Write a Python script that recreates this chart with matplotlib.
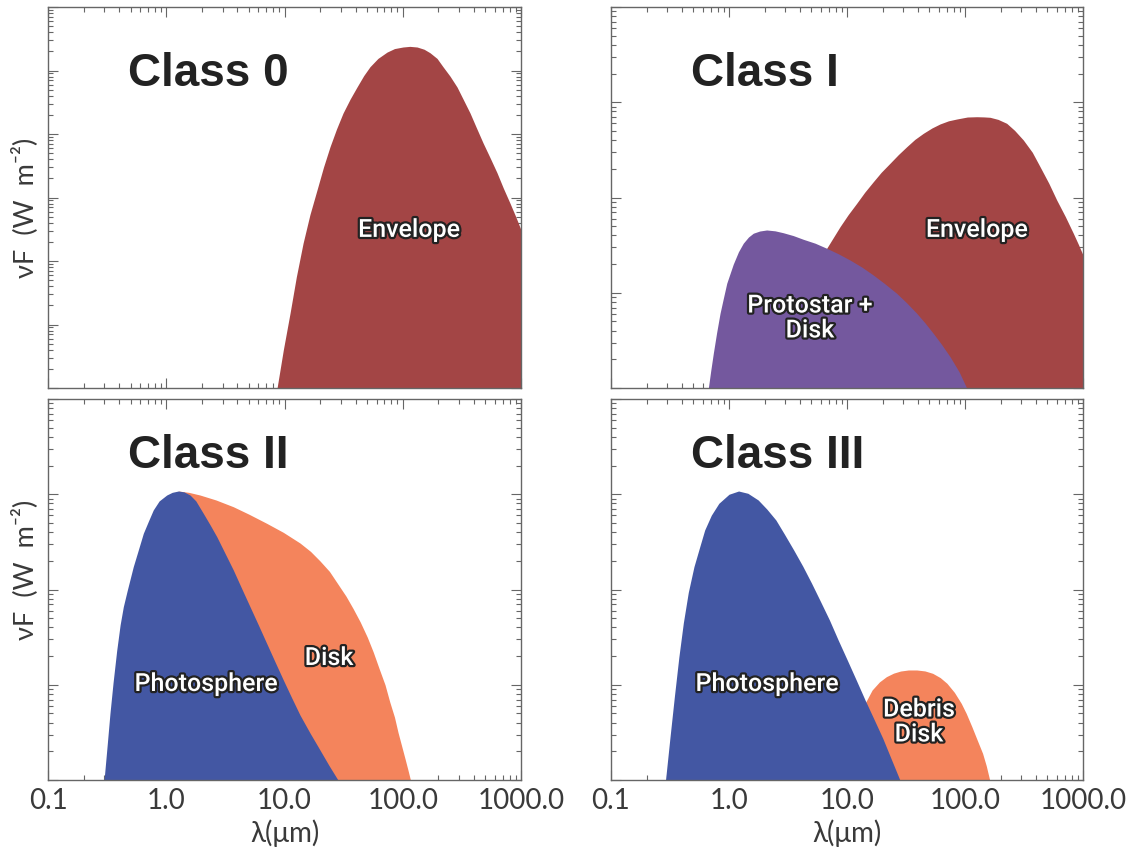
import numpy as np
import matplotlib
matplotlib.use("Agg")
import matplotlib.pyplot as plt
import matplotlib.patheffects as pe
from matplotlib.ticker import LogLocator, NullFormatter

# colours
ENV, PROTO, PHOT, DISK = "#A34545", "#74589E", "#4357A3", "#F4845C"
INK, AXC, TXT = "#222222", "#666666", "#3a3a3a"

# ---- data: log10(lambda / um) and log10(nuF, arbitrary units) ----
# Class 0
c0_env_lam = [0.937, 0.99, 1.047, 1.10, 1.157, 1.215, 1.275, 1.33, 1.385, 1.44,
              1.495, 1.555, 1.613, 1.67, 1.723, 1.79, 1.867, 1.93, 2.002, 2.06,
              2.121, 2.18, 2.230, 2.29, 2.340, 2.40, 2.459, 2.51, 2.569, 2.62,
              2.679, 2.74, 2.797, 2.85, 2.907, 2.955, 3.0]
c0_env_f = [0.0, 0.60, 1.18, 1.75, 2.28, 2.73, 3.12, 3.48, 3.80, 4.08,
            4.33, 4.55, 4.74, 4.92, 5.06, 5.19, 5.29, 5.345, 5.37, 5.38,
            5.37, 5.335, 5.28, 5.19, 5.06, 4.91, 4.74, 4.55, 4.33, 4.11,
            3.86, 3.62, 3.39, 3.15, 2.91, 2.70, 2.49]

# Class I
c1_env_lam = [0.263, 0.517, 0.686, 0.828, 0.941, 1.01, 1.082, 1.15, 1.223, 1.29,
              1.364, 1.435, 1.506, 1.575, 1.647, 1.72, 1.788, 1.86, 1.930, 2.02,
              2.099, 2.16, 2.212, 2.28, 2.353, 2.42, 2.494, 2.57, 2.636, 2.71,
              2.777, 2.85, 2.918, 2.96, 3.0]
c1_env_f = [0.0, 0.714, 1.134, 1.467, 1.694, 1.82, 1.939, 2.055, 2.166, 2.265,
            2.359, 2.45, 2.533, 2.61, 2.674, 2.73, 2.772, 2.805, 2.824, 2.845,
            2.848, 2.846, 2.842, 2.82, 2.779, 2.705, 2.604, 2.475, 2.323, 2.15,
            1.974, 1.80, 1.624, 1.51, 1.396]
c1_pd_lam = [-0.175, -0.155, -0.133, -0.105, -0.076, -0.05, -0.019, 0.036, 0.08, 0.121,
             0.165, 0.206, 0.26, 0.319, 0.39, 0.460, 0.545, 0.630, 0.73, 0.828,
             0.925, 1.025, 1.125, 1.223, 1.32, 1.421, 1.505, 1.591, 1.66, 1.731,
             1.80, 1.873, 1.95, 2.014]
c1_pd_f = [0.0, 0.18, 0.364, 0.58, 0.784, 0.93, 1.10, 1.30, 1.43, 1.52,
           1.585, 1.625, 1.648, 1.659, 1.650, 1.630, 1.60, 1.561, 1.52, 1.467,
           1.41, 1.344, 1.27, 1.186, 1.095, 0.994, 0.895, 0.784, 0.685, 0.574,
           0.46, 0.329, 0.17, 0.0]

# Class II
c2_phot_lam = [-0.526, -0.50, -0.476, -0.45, -0.419, -0.39, -0.363, -0.33, -0.279, -0.24,
               -0.194, -0.15, -0.110, -0.06, 0.004, 0.05, 0.102, 0.15, 0.201, 0.25,
               0.313, 0.37, 0.427, 0.497, 0.567, 0.638, 0.708, 0.78, 0.849, 0.92,
               0.990, 1.06, 1.131, 1.215, 1.300, 1.375, 1.452]
c2_phot_f = [0.0, 0.36, 0.70, 1.02, 1.36, 1.63, 1.82, 1.99, 2.24, 2.40,
             2.59, 2.72, 2.835, 2.93, 2.992, 3.02, 3.034, 3.025, 2.992, 2.93,
             2.80, 2.68, 2.555, 2.38, 2.205, 2.01, 1.82, 1.625, 1.435, 1.24,
             1.05, 0.865, 0.682, 0.495, 0.315, 0.155, 0.0]
c2_disk_lam = [0.102, 0.19, 0.285, 0.42, 0.567, 0.70, 0.849, 0.99, 1.131, 1.22,
               1.30, 1.38, 1.45, 1.52, 1.58, 1.64, 1.70, 1.75, 1.80, 1.85,
               1.89, 1.93, 1.96, 1.99, 2.02, 2.045, 2.065]
c2_disk_f = [3.034, 3.02, 2.992, 2.94, 2.869, 2.79, 2.695, 2.60, 2.488, 2.40,
             2.30, 2.19, 2.06, 1.93, 1.80, 1.66, 1.50, 1.345, 1.17, 1.00,
             0.82, 0.66, 0.50, 0.36, 0.22, 0.10, 0.0]

# Class III
c3_phot_lam = [-0.538, -0.50, -0.463, -0.425, -0.387, -0.345, -0.297, -0.25, -0.206, -0.15,
               -0.086, 0.0, 0.081, 0.16, 0.247, 0.32, 0.397, 0.47, 0.548, 0.625,
               0.700, 0.775, 0.851, 0.925, 1.002, 1.078, 1.153, 1.228, 1.303, 1.375,
               1.448]
c3_phot_f = [0.0, 0.45, 0.875, 1.29, 1.65, 1.97, 2.24, 2.44, 2.625, 2.78,
             2.905, 3.0, 3.034, 3.01, 2.94, 2.845, 2.73, 2.58, 2.415, 2.245,
             2.065, 1.875, 1.68, 1.47, 1.26, 1.05, 0.84, 0.64, 0.438, 0.22,
             0.0]
c3_debris_lam = [0.941, 1.02, 1.093, 1.155, 1.213, 1.275, 1.334, 1.395, 1.454, 1.52,
                 1.591, 1.66, 1.726, 1.79, 1.847, 1.91, 1.968, 2.01, 2.058, 2.10,
                 2.149, 2.18, 2.209]
c3_debris_f = [0.0, 0.33, 0.63, 0.81, 0.945, 1.03, 1.085, 1.122, 1.144, 1.155,
               1.155, 1.145, 1.12, 1.075, 1.015, 0.92, 0.805, 0.70, 0.56, 0.43,
               0.28, 0.15, 0.0]

XTICKS = [0.1, 1.0, 10.0, 100.0, 1000.0]
XLABELS = ["0.1", "1.0", "10.0", "100.0", "1000.0"]

TICKFONT = ["Lato", "DejaVu Sans"]
LBLFONT = ["Roboto", "Liberation Sans", "DejaVu Sans"]
TTLFONT = ["Liberation Sans", "DejaVu Sans"]


def fill(ax, lam, f, color):
    x = 10 ** np.asarray(lam)
    y = 10 ** np.asarray(f)
    ax.fill_between(x, y, 1e-3, color=color, lw=0, zorder=2)


def style(ax, ydec, bottom_labels):
    ax.set_xscale("log"); ax.set_yscale("log")
    ax.set_xlim(0.1, 1000); ax.set_ylim(1, 10 ** ydec)
    ax.xaxis.set_minor_locator(LogLocator(base=10, subs=np.arange(2, 10)))
    ax.yaxis.set_minor_locator(LogLocator(base=10, subs=np.arange(2, 10), numticks=20))
    ax.yaxis.set_major_locator(LogLocator(base=10, numticks=20))
    ax.yaxis.set_major_formatter(NullFormatter()); ax.yaxis.set_minor_formatter(NullFormatter())
    ax.xaxis.set_minor_formatter(NullFormatter())
    ax.tick_params(which="both", direction="in", top=True, right=True, color=AXC, width=0.8)
    ax.tick_params(which="major", length=7.5)
    ax.tick_params(which="minor", length=3.6)
    for s in ax.spines.values():
        s.set_color(AXC); s.set_linewidth(1.0)
    if bottom_labels:
        ax.set_xticks(XTICKS, labels=XLABELS)
        ax.tick_params(axis="x", which="major", labelsize=20, labelcolor=TXT, pad=6)
        for t in ax.get_xticklabels():
            t.set_family(TICKFONT)
    else:
        ax.set_xticks(XTICKS)
        ax.tick_params(axis="x", labelbottom=False)


def label(ax, x, y, s):
    ax.text(x, y, s, ha="center", va="center", fontsize=18, color="white",
            family=LBLFONT, fontweight="medium", linespacing=1.05, zorder=5,
            path_effects=[pe.withStroke(linewidth=3.2, foreground=INK)])


def title(ax, y, s):
    ax.text(0.17, y, s, transform=ax.transAxes, ha="left", va="center",
            fontsize=33, fontweight="bold", color=INK, family=TTLFONT, zorder=5)


fig = plt.figure(figsize=(11.4, 8.5), dpi=100)
W, H = 1140.0, 850.0
axA = fig.add_axes([48 / W, 1 - 388 / H, 473 / W, 381 / H])
axB = fig.add_axes([611 / W, 1 - 388 / H, 472 / W, 381 / H])
axC = fig.add_axes([48 / W, 1 - 780 / H, 473 / W, 381 / H])
axD = fig.add_axes([611 / W, 1 - 780 / H, 472 / W, 381 / H])

# Class 0
style(axA, 6, False)
fill(axA, c0_env_lam, c0_env_f, ENV)
label(axA, 113, 10 ** 2.49, "Envelope")
title(axA, 0.825, "Class 0")

# Class I
style(axB, 4, False)
fill(axB, c1_env_lam, c1_env_f, ENV)
fill(axB, c1_pd_lam, c1_pd_f, PROTO)
label(axB, 126, 10 ** 1.66, "Envelope")
label(axB, 4.85, 10 ** 0.735, "Protostar +\nDisk")
title(axB, 0.825, "Class I")

# Class II
style(axC, 4, True)
fill(axC, c2_disk_lam, c2_disk_f, DISK)
fill(axC, c2_phot_lam, c2_phot_f, PHOT)
label(axC, 2.17, 10 ** 1.008, "Photosphere")
label(axC, 23.8, 10 ** 1.281, "Disk")
title(axC, 0.85, "Class II")

# Class III
style(axD, 4, True)
fill(axD, c3_debris_lam, c3_debris_f, DISK)
fill(axD, c3_phot_lam, c3_phot_f, PHOT)
label(axD, 2.10, 10 ** 1.008, "Photosphere")
label(axD, 40.7, 10 ** 0.609, "Debris\nDisk")
title(axD, 0.85, "Class III")

# axis titles
for ax in (axC, axD):
    b = ax.get_position()
    fig.text((b.x0 + b.x1) / 2, 1 - 833 / H, "λ(μm)", ha="center", va="center",
             fontsize=20, color=TXT, family=TICKFONT)
for yc in (208, 570):
    fig.text(25 / W, 1 - yc / H, "νF  (W  m⁻²)", rotation=90, ha="center", va="center",
             fontsize=19.5, color=TXT, family=TICKFONT)

fig.savefig("out.png", dpi=100)
